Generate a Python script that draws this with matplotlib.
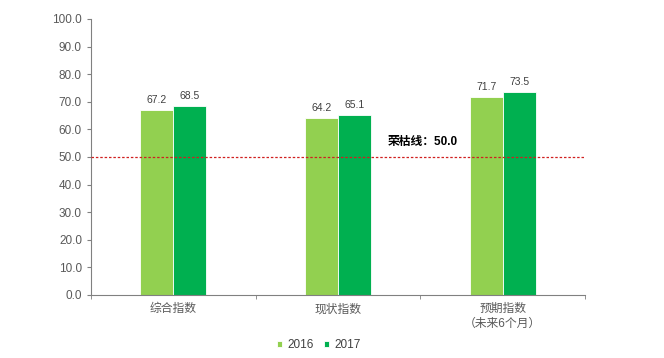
import numpy as np
import matplotlib.pyplot as plt

plt.rcParams['font.family'] = ['Liberation Sans', 'Noto Sans CJK SC', 'DejaVu Sans']

categories = ['综合指数', '现状指数', '预期指数\n（未来6个月）']
years = ['2016', '2017']
v2016 = [67.2, 64.2, 71.7]
v2017 = [68.5, 65.1, 73.5]
threshold = 50.0
threshold_label = '荣枯线：50.0'

c2016 = '#92D050'
c2017 = '#00B050'
gray = '#595959'

fig = plt.figure(figsize=(6.64, 3.58), dpi=100)
ax = fig.add_axes([0.137, 0.176, 0.744, 0.771])

x = np.arange(len(categories))
w = 0.2
b1 = ax.bar(x - w / 2, v2016, w, color=c2016, edgecolor='white', linewidth=0.6,
            label=years[0], zorder=2)
b2 = ax.bar(x + w / 2, v2017, w, color=c2017, edgecolor='white', linewidth=0.6,
            label=years[1], zorder=2)
for bars, vals in ((b1, v2016), (b2, v2017)):
    for r, v in zip(bars, vals):
        ax.text(r.get_x() + r.get_width() / 2, v + 1.8, f'{v:.1f}',
                ha='center', va='bottom', fontsize=7.5, color='#404040')

ax.axhline(threshold, color='#D02020', linestyle=(0, (2, 1.5)), linewidth=0.9, zorder=3)
ax.text(1.3, threshold + 5.6, threshold_label, fontsize=8.5, fontweight='bold',
        ha='left', va='center', color='black')

ax.set_xlim(-0.5, len(categories) - 0.5)
ax.set_ylim(0, 100)
ax.set_yticks(np.arange(0, 101, 10))
ax.set_yticklabels([f'{t:.1f}' for t in np.arange(0, 101, 10)])
ax.set_xticks(x)
ax.set_xticklabels(categories, fontsize=8.5, color=gray, linespacing=1.25)
ax.set_xticks(np.arange(-0.5, len(categories), 1), minor=True)
ax.tick_params(axis='x', which='major', length=0, pad=6)
ax.tick_params(axis='x', which='minor', length=3, color='#808080', direction='out')
ax.tick_params(axis='y', labelsize=8.5, colors=gray, length=3, color='#808080')
for s in ('top', 'right'):
    ax.spines[s].set_visible(False)
for s in ('left', 'bottom'):
    ax.spines[s].set_color('#808080')
    ax.spines[s].set_linewidth(0.8)

fig.legend(loc='lower center', bbox_to_anchor=(0.48, -0.01), ncol=2, frameon=False,
           fontsize=8.5, handlelength=0.45, handleheight=0.45, handletextpad=0.4,
           columnspacing=0.9, labelcolor='#404040')

fig.savefig('out.png', dpi=100)
